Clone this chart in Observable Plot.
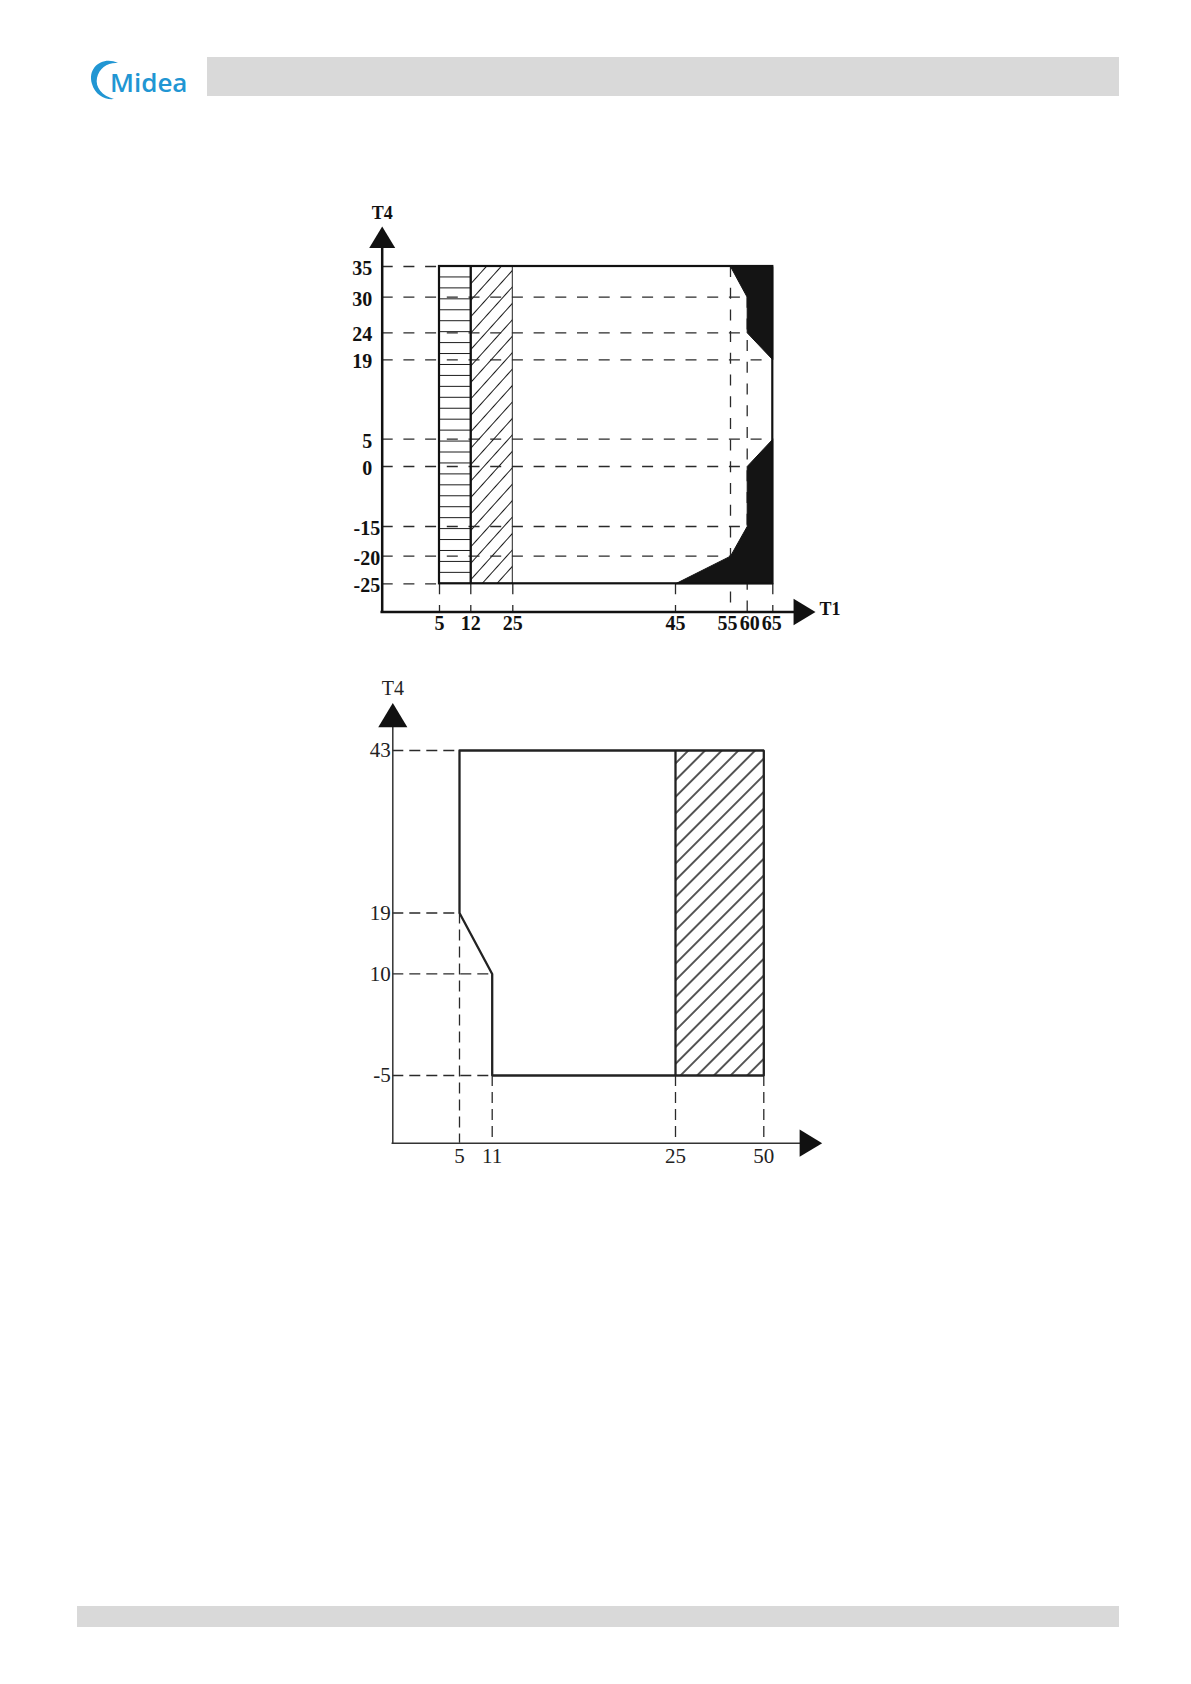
<!DOCTYPE html>
<html>
<head>
<meta charset="utf-8">
<script src="https://cdn.jsdelivr.net/npm/d3@7"></script>
<script src="https://cdn.jsdelivr.net/npm/@observablehq/plot@0.6"></script>
<style>
  html, body { margin: 0; padding: 0; background: #fff; }
  #page { position: relative; width: 1191px; height: 1684px; overflow: hidden; background: #fff; }
  .bar { position: absolute; background: #d9d9d9; }
  #logo { position: absolute; left: 85px; top: 55px; }
  #chart1 { position: absolute; left: 320px; top: 180px; }
  #chart2 { position: absolute; left: 320px; top: 660px; }
</style>
</head>
<body>
<div id="page">
  <svg id="logo" width="110" height="46" viewBox="0 0 110 46">
    <path d="M 33 8 C 18 1, 2 12, 7 29 C 10 40, 20 45, 29 44 C 17 41, 10 32, 12 23 C 14 13, 23 7, 33 8 Z" fill="#2196d3"/>
    <text x="25" y="37" font-family="'Open Sans', Lato, sans-serif" font-weight="600" font-size="26" fill="#2196d3">Midea</text>
  </svg>
  <div class="bar" style="left:207px;top:57px;width:912px;height:39px"></div>
  <div class="bar" style="left:77px;top:1606px;width:1042px;height:21px"></div>
  <div id="chart1"></div>
  <div id="chart2"></div>
</div>
<script>
// ---------------- Chart 1 data (T1 vs T4) ----------------
const t1Ticks1 = [5, 12, 25, 45, 55, 60, 65];
const t4Ticks1 = [35, 30, 24, 19, 5, 0, -15, -20, -25];
const axis1 = {t1Origin: 0, t1End: 70, t4Origin: -30, t4End: 42};
const hatchHZone1 = [{t1a: 5, t1b: 12, t4a: -25, t4b: 35}];
const hatchDZone1 = [{t1a: 12, t1b: 25, t4a: -25, t4b: 35}];
const envelope1 = [{t1a: 5, t1b: 65, t4a: -25, t4b: 35}];
const divider1 = [12];
const blackUpper1 = [[55, 35], [65, 35], [65, 19], [60, 24], [60, 30], [55, 35]];
const blackLower1 = [[65, 5], [60, 0], [60, -15], [55, -20], [45, -25], [65, -25], [65, 5]];
const hGuides1 = [[35, 5], [30, 60], [24, 60], [19, 65], [5, 65], [0, 60], [-15, 60], [-20, 55], [-25, 5]]; // [T4, T1 end]
const vGuides1 = [[5, -25], [12, -25], [25, -25], [45, -25], [55, 35], [60, 30], [65, -25]];       // [T1, T4 top]

// ---------------- Chart 2 data ----------------
const t1Ticks2 = [5, 11, 25, 50];
const t4Ticks2 = [43, 19, 10, -5];
const axis2 = {t1Origin: 0, t1End: 57, t4Origin: -15, t4End: 50};
const outline2 = [[5, 43], [50, 43], [50, -5], [11, -5], [11, 10], [5, 19], [5, 43]];
const hatchZone2 = [{t1a: 25, t1b: 50, t4a: -5, t4b: 43}];
const divider2 = [25];
const hGuides2 = [[43, 5], [19, 5], [10, 11], [-5, 11]];
const vGuides2 = [[5, 19], [11, -5], [25, -5], [50, -5]];

// ---------------- layout (schematic, piecewise scales) ----------------
const xDomain1 = [axis1.t1Origin, ...t1Ticks1, axis1.t1End];
const xRange1 = [61.7, 119, 150.3, 192.3, 355, 410, 426.7, 452.3, 495];
const yDomain1 = [axis1.t4Origin, ...[...t4Ticks1].sort((a, b) => a - b), axis1.t4End];
const yRange1 = [431.5, 403.3, 375.7, 346, 286, 258.7, 179.3, 152.3, 116.7, 86, 46];
const xLabelNudge1 = {55: -3, 60: 2.5, 65: -1};

const xDomain2 = [axis2.t1Origin, ...t1Ticks2, axis2.t1End];
const xRange2 = [72.3, 139, 171.7, 355, 443.3, 501.7];
const yDomain2 = [-5, 43];
const yRange2 = [415, 90];

const SERIF = "'Liberation Serif', 'DejaVu Serif', serif";

const arrowUp = {draw(ctx, size) {
  const r = Math.sqrt(size / Math.PI);
  ctx.moveTo(0, 0); ctx.lineTo(1.3 * r, 2.15 * r); ctx.lineTo(-1.3 * r, 2.15 * r); ctx.closePath();
}};
const arrowRight = {draw(ctx, size) {
  const r = Math.sqrt(size / Math.PI);
  ctx.moveTo(0, 0); ctx.lineTo(-2.15 * r, -1.3 * r); ctx.lineTo(-2.15 * r, 1.3 * r); ctx.closePath();
}};

function addHatch(svg, id, {spacing, angle = 0, color = "#222", width = 1.1, y0 = 0}) {
  let defs = d3.select(svg).select("defs");
  if (defs.empty()) defs = d3.select(svg).insert("defs", ":first-child");
  const p = defs.append("pattern").attr("id", id).attr("patternUnits", "userSpaceOnUse")
    .attr("width", 40).attr("height", spacing).attr("x", 0).attr("y", y0);
  if (angle) p.attr("patternTransform", `rotate(${angle})`);
  p.append("line").attr("x1", -2).attr("x2", 42).attr("y1", spacing / 2).attr("y2", spacing / 2)
    .attr("stroke", color).attr("stroke-width", width);
}

const dash1 = {stroke: "#2a2a2a", strokeWidth: 1.3, strokeDasharray: "11,10.7"};
const font1 = {fontFamily: SERIF, fontSize: 20, fontWeight: "bold", fill: "#111"};

const svg1 = Plot.plot({
  width: 540, height: 470,
  marginTop: 0, marginRight: 0, marginBottom: 0, marginLeft: 0,
  style: {background: "transparent", overflow: "visible"},
  x: {type: "linear", domain: xDomain1, range: xRange1, axis: null},
  y: {type: "linear", domain: yDomain1, range: yRange1, axis: null},
  marks: [
    Plot.rect(hatchHZone1, {x1: "t1a", x2: "t1b", y1: "t4a", y2: "t4b", fill: "url(#hatchH1)"}),
    Plot.rect(hatchDZone1, {x1: "t1a", x2: "t1b", y1: "t4a", y2: "t4b", fill: "url(#hatchD1)", stroke: "#222", strokeWidth: 1}),
    Plot.ruleY(hGuides1, {y: d => d[0], x1: () => axis1.t1Origin, x2: d => d[1], ...dash1}),
    Plot.ruleX(vGuides1, {x: d => d[0], y1: d => d[1], y2: () => axis1.t4Origin, ...dash1}),
    Plot.line(blackUpper1, {x: d => d[0], y: d => d[1], fill: "#141414", stroke: "#141414", strokeWidth: 1}),
    Plot.line(blackLower1, {x: d => d[0], y: d => d[1], fill: "#141414", stroke: "#141414", strokeWidth: 1}),
    Plot.rect(envelope1, {x1: "t1a", x2: "t1b", y1: "t4a", y2: "t4b", fill: "none", stroke: "#111", strokeWidth: 2.2}),
    Plot.ruleX(divider1, {x: d => d, y1: () => -25, y2: () => 35, stroke: "#111", strokeWidth: 2.2}),
    // axes
    Plot.ruleY([axis1.t4Origin], {y: d => d, x1: () => axis1.t1Origin, x2: () => axis1.t1End, insetRight: 8, stroke: "#111", strokeWidth: 2.5, strokeLinecap: "square"}),
    Plot.ruleX([axis1.t1Origin], {x: d => d, y1: () => axis1.t4End, y2: () => axis1.t4Origin, insetTop: 8, stroke: "#111", strokeWidth: 2.5, strokeLinecap: "square"}),
    Plot.dot([axis1], {x: "t1Origin", y: "t4End", symbol: arrowUp, r: 10, fill: "#111", stroke: "none"}),
    Plot.dot([axis1], {x: "t1End", y: "t4Origin", symbol: arrowRight, r: 10.2, fill: "#111", stroke: "none"}),
    // labels
    Plot.text(t4Ticks1.filter(d => d >= 0), {x: () => axis1.t1Origin, y: d => d, text: d => String(d), textAnchor: "end", dx: -10, dy: 2, ...font1}),
    Plot.text(t4Ticks1.filter(d => d < 0), {x: () => axis1.t1Origin, y: d => d, text: d => String(d), textAnchor: "end", dx: -2, dy: 2, ...font1}),
    ...t1Ticks1.map(t => Plot.text([t], {x: d => d, y: () => axis1.t4Origin, text: d => String(d), dy: 12, dx: xLabelNudge1[t] || 0, ...font1})),
    Plot.text(["T4"], {x: () => axis1.t1Origin, y: () => axis1.t4End, text: d => d, dy: -13, ...font1, fontSize: 18}),
    Plot.text(["T1"], {x: () => axis1.t1End, y: () => axis1.t4Origin, text: d => d, textAnchor: "start", dx: 4, dy: -3, ...font1, fontSize: 18})
  ]
});
{
  const ys = svg1.scale("y");
  const yTop = ys.apply(35), yBot = ys.apply(-25);
  const sp = (yBot - yTop) / 29;
  addHatch(svg1, "hatchH1", {spacing: sp, y0: yTop - sp / 2, width: 1.2, color: "#1a1a1a"});
  addHatch(svg1, "hatchD1", {spacing: 11, angle: -48, width: 1.2, color: "#1a1a1a"});
}
document.getElementById("chart1").appendChild(svg1);

const dash2 = {stroke: "#2a2a2a", strokeWidth: 1.3, strokeDasharray: "11,6"};
const font2 = {fontFamily: SERIF, fontSize: 21, fill: "#222"};

const svg2 = Plot.plot({
  width: 540, height: 520,
  marginTop: 0, marginRight: 0, marginBottom: 0, marginLeft: 0,
  style: {background: "transparent", overflow: "visible"},
  x: {type: "linear", domain: xDomain2, range: xRange2, axis: null},
  y: {type: "linear", domain: yDomain2, range: yRange2, axis: null},
  marks: [
    Plot.rect(hatchZone2, {x1: "t1a", x2: "t1b", y1: "t4a", y2: "t4b", fill: "url(#hatchD2)"}),
    Plot.ruleY(hGuides2, {y: d => d[0], x1: () => axis2.t1Origin, x2: d => d[1], ...dash2}),
    Plot.ruleX(vGuides2, {x: d => d[0], y1: d => d[1], y2: () => axis2.t4Origin, ...dash2}),
    Plot.line(outline2, {x: d => d[0], y: d => d[1], stroke: "#222", strokeWidth: 2.3, strokeLinejoin: "miter"}),
    Plot.ruleX(divider2, {x: d => d, y1: () => -5, y2: () => 43, stroke: "#222", strokeWidth: 2.3}),
    // axes
    Plot.ruleY([axis2.t4Origin], {y: d => d, x1: () => axis2.t1Origin, x2: () => axis2.t1End, insetRight: 8, stroke: "#333", strokeWidth: 1.5, strokeLinecap: "square"}),
    Plot.ruleX([axis2.t1Origin], {x: d => d, y1: () => axis2.t4End, y2: () => axis2.t4Origin, insetTop: 8, stroke: "#333", strokeWidth: 1.5, strokeLinecap: "square"}),
    Plot.dot([axis2], {x: "t1Origin", y: "t4End", symbol: arrowUp, r: 11.2, fill: "#111", stroke: "none"}),
    Plot.dot([axis2], {x: "t1End", y: "t4Origin", symbol: arrowRight, r: 10.5, fill: "#111", stroke: "none"}),
    // labels
    Plot.text(t4Ticks2, {x: () => axis2.t1Origin, y: d => d, text: d => String(d), textAnchor: "end", dx: -2, dy: 0, ...font2}),
    Plot.text(t1Ticks2, {x: d => d, y: () => axis2.t4Origin, text: d => String(d), dy: 13, ...font2}),
    Plot.text(["T4"], {x: () => axis2.t1Origin, y: () => axis2.t4End, text: d => d, dy: -15, ...font2, fontSize: 20})
  ]
});
addHatch(svg2, "hatchD2", {spacing: 11.8, angle: -45, width: 1.5, color: "#1a1a1a"});
document.getElementById("chart2").appendChild(svg2);
</script>
</body>
</html>
